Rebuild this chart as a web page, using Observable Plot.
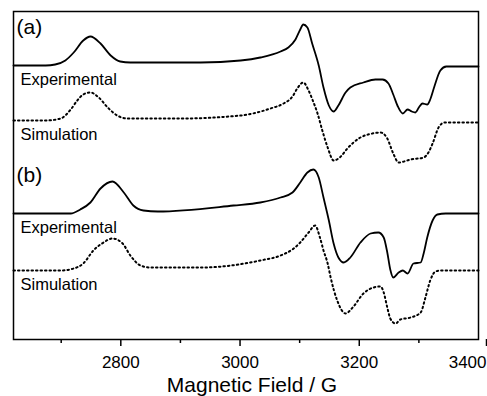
<!DOCTYPE html>
<html>
<head>
<meta charset="utf-8">
<script src="https://cdn.jsdelivr.net/npm/d3@7"></script>
<script src="https://cdn.jsdelivr.net/npm/@observablehq/plot@0.6"></script>
<style>
  html, body { margin: 0; padding: 0; background: #fff; }
  #chart { width: 487px; height: 396px; }
</style>
</head>
<body>
<div id="chart"></div>
<script>
// Magnetic field (G) and derivative intensity (arbitrary units) for each trace
const expAField  = [2620,2674,2690,2707,2721,2737,2749,2766,2783,2799,2816,2934,3001,3034,3068,3081,3093,3101,3106,3113,3121,3132,3140,3149,3157,3165,3177,3185,3207,3227,3239,3249,3257,3264,3273,3281,3288,3294,3301,3306,3314,3319,3326,3336,3346,3400];
const expASignal = [0,0,1,5,13,25,29,22,10,4,3,3,5,8,14,18,26,36,41,38,22,0,-22,-40,-46,-40,-27,-22,-17,-14,-14,-18,-29,-40,-48,-44,-46,-47,-41,-38,-39,-34,-21,-5,-1,-1];

const simAField  = [2620,2674,2699,2716,2727,2737,2749,2763,2778,2794,2811,2900,3001,3051,3073,3088,3096,3106,3115,3122,3130,3138,3147,3157,3169,3180,3202,3222,3236,3247,3257,3266,3286,3308,3316,3323,3333,3343,3400];
const simASignal = [0,0,2,11,20,26,28,23,13,5,2,2,5,12,17,24,32,38,30,20,7,-10,-27,-40,-36,-28,-17,-13,-12,-18,-33,-42,-39,-37,-32,-23,-7,-2,-2];

const expBField  = [2620,2716,2732,2749,2766,2786,2805,2821,2838,2862,2989,3034,3068,3088,3101,3113,3123,3132,3140,3149,3157,3165,3174,3185,3202,3219,3232,3241,3247,3252,3257,3266,3273,3281,3291,3303,3308,3314,3323,3331,3345,3400];
const expBSignal = [0,0,4,11,25,32,21,8,3,2,8,11,16,21,31,41,44,36,16,-7,-30,-44,-49,-44,-29,-20,-19,-24,-39,-56,-64,-59,-57,-60,-50,-49,-40,-24,-7,-1,0,0];

const simBField  = [2620,2699,2721,2737,2754,2771,2786,2803,2816,2833,2850,2934,3034,3068,3090,3101,3115,3126,3134,3140,3147,3152,3163,3177,3189,3207,3224,3236,3241,3247,3252,3261,3269,3286,3303,3311,3319,3328,3336,3400];
const simBSignal = [0,0,2,7,20,28,32,27,15,5,3,3,10,15,22,28,38,45,33,20,7,-7,-30,-43,-37,-23,-17,-16,-22,-37,-48,-53,-49,-47,-42,-27,-10,-1,0,0];

const traceNames   = ["expA", "simA", "expB", "simB"];
const traceOffsets = [274, 219, 126, 69];
const traceDashed  = [false, true, false, true];

const majorTicks = [2800, 3000, 3200];
const lastTick = [3400];
const minorTicks = [2700, 2900, 3100, 3300];

const panelLabels = ["(a)", "(b)"];
const traceLabels = ["Experimental", "Simulation", "Experimental", "Simulation"];
const axisTitle = "Magnetic Field / G";

const fields  = [expAField, simAField, expBField, simBField];
const signals = [expASignal, simASignal, expBSignal, simBSignal];

const rows = [];
traceNames.forEach((name, i) => {
  fields[i].forEach((f, j) => rows.push({trace: name, field: f, value: signals[i][j] + traceOffsets[i], dashed: traceDashed[i]}));
});
const solidRows = rows.filter(d => !d.dashed);
const dottedRows = rows.filter(d => d.dashed);

const traceLabelRows = traceLabels.map((t, i) => ({text: t, y: traceOffsets[i]}));
const panelLabelRows = panelLabels.map((t, i) => ({text: t, y: traceOffsets[i * 2]}));

const font = "'Liberation Sans', Arial, Helvetica, sans-serif";
const fmt = d3.format("d");

const chart = Plot.plot({
  width: 487,
  height: 396,
  marginLeft: 13,
  marginRight: 9,
  marginTop: 11,
  marginBottom: 57,
  style: {fontFamily: font, background: "#fff", color: "#000"},
  x: {domain: [2620, 3400]},
  y: {domain: [0, 328], axis: null},
  marks: [
    Plot.line(solidRows, {x: "field", y: "value", z: "trace", stroke: "#000", strokeWidth: 1.8, curve: "monotone-x"}),
    Plot.line(dottedRows, {x: "field", y: "value", z: "trace", stroke: "#000", strokeWidth: 2, strokeDasharray: "1.5 3", curve: "monotone-x"}),
    Plot.text(traceLabelRows, {y: "y", text: "text", frameAnchor: "left", textAnchor: "start", dx: 7, dy: 14, fontSize: 16.5, fill: "#000"}),
    Plot.text(panelLabelRows, {y: "y", text: "text", frameAnchor: "left", textAnchor: "start", dx: 3, dy: -38, fontSize: 21, fill: "#000"}),
    Plot.frame({stroke: "#000", strokeWidth: 1.5}),
    Plot.axisX({ticks: majorTicks, tickSize: 7, tickPadding: 9, fontSize: 17, tickFormat: fmt, strokeWidth: 1.5, label: null}),
    Plot.axisX({ticks: lastTick, tickSize: 7, tickPadding: 9, fontSize: 17, tickFormat: fmt, textAnchor: "end", dx: 8, strokeWidth: 1.5, label: null}),
    Plot.axisX({ticks: minorTicks, tickSize: 4, tickFormat: () => "", strokeWidth: 1.5, label: null}),
    Plot.text([axisTitle], {frameAnchor: "bottom", dx: 6, dy: 52, fontSize: 21, fill: "#000"})
  ]
});
document.getElementById("chart").appendChild(chart);
</script>
</body>
</html>
